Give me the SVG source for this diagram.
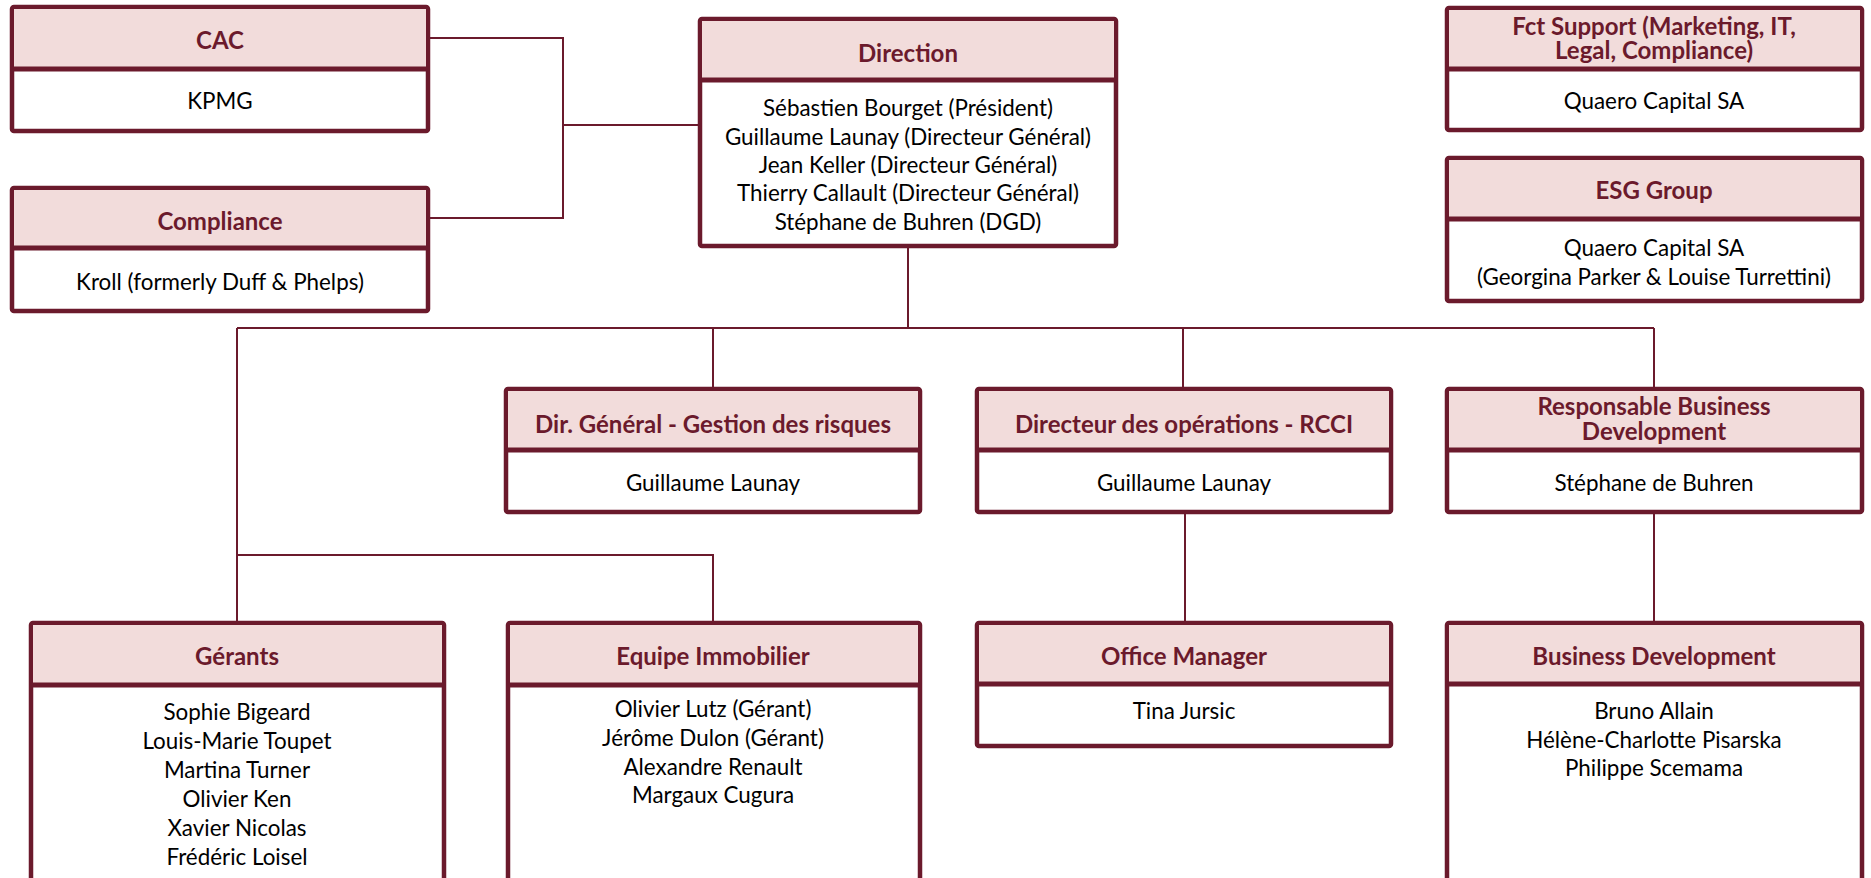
<svg xmlns="http://www.w3.org/2000/svg" width="1871" height="878" viewBox="0 0 1871 878">
<style>
.box{fill:#fff;stroke:#6b1a2c;stroke-width:4.5;}
.hdr{fill:#f2dcdb;stroke:none;}
.div{stroke:#6b1a2c;stroke-width:5;}
.t{font-family:Lato,"Open Sans",sans-serif;font-weight:bold;font-size:24px;fill:#6b1a2c;text-anchor:middle;dominant-baseline:central;}
.b{font-family:Lato,"Open Sans",sans-serif;font-size:22.4px;fill:#000;text-anchor:middle;dominant-baseline:central;}
.c{fill:none;stroke:#6b1a2c;stroke-width:2;}
</style>
<rect width="1871" height="878" fill="#fff"/>
<g id="connectors">
<path class="c" d="M430,38 H563 V218 H430"/>
<path class="c" d="M563,125 H698"/>
<path class="c" d="M908,248 V328"/>
<path class="c" d="M237,328 H1654"/>
<path class="c" d="M713,328 V387 M1183,328 V387 M1654,328 V387"/>
<path class="c" d="M237,328 V621"/>
<path class="c" d="M237,555 H713 V621"/>
<path class="c" d="M1185,514 V621 M1654,514 V621"/>
</g>
<g id="cac">
<rect class="box" x="12" y="7" width="416" height="124" rx="2"/>
<rect class="hdr" x="14" y="9" width="412" height="60"/>
<line class="div" x1="12" y1="69" x2="428" y2="69"/>
<text class="t" x="220" y="39">CAC</text>
<text class="b" x="220" y="100">KPMG</text>
</g>
<g id="compliance">
<rect class="box" x="12" y="188" width="416" height="123" rx="2"/>
<rect class="hdr" x="14" y="190" width="412" height="58"/>
<line class="div" x1="12" y1="248" x2="428" y2="248"/>
<text class="t" x="220" y="220">Compliance</text>
<text class="b" x="220" y="281">Kroll (formerly Duff &amp; Phelps)</text>
</g>
<g id="direction">
<rect class="box" x="700" y="19" width="416" height="227" rx="2"/>
<rect class="hdr" x="702" y="21" width="412" height="59"/>
<line class="div" x1="700" y1="80" x2="1116" y2="80"/>
<text class="t" x="908" y="52">Direction</text>
<text class="b" x="908" y="107">Sébastien Bourget (Président)</text>
<text class="b" x="908" y="136">Guillaume Launay (Directeur Général)</text>
<text class="b" x="908" y="164">Jean Keller (Directeur Général)</text>
<text class="b" x="908" y="192">Thierry Callault (Directeur Général)</text>
<text class="b" x="908" y="221">Stéphane de Buhren (DGD)</text>
</g>
<g id="fct-support">
<rect class="box" x="1447" y="8" width="415" height="122" rx="2"/>
<rect class="hdr" x="1449" y="10" width="411" height="59"/>
<line class="div" x1="1447" y1="69" x2="1862" y2="69"/>
<text class="t" x="1654" y="25">Fct Support (Marketing, IT,<tspan x="1654" dy="24">Legal, Compliance)</tspan></text>
<text class="b" x="1654" y="100">Quaero Capital SA</text>
</g>
<g id="esg">
<rect class="box" x="1447" y="158" width="415" height="143" rx="2"/>
<rect class="hdr" x="1449" y="160" width="411" height="59"/>
<line class="div" x1="1447" y1="219" x2="1862" y2="219"/>
<text class="t" x="1654" y="189">ESG Group</text>
<text class="b" x="1654" y="247">Quaero Capital SA</text>
<text class="b" x="1654" y="276">(Georgina Parker &amp; Louise Turrettini)</text>
</g>
<g id="dir-general">
<rect class="box" x="506" y="389" width="414" height="123" rx="2"/>
<rect class="hdr" x="508" y="391" width="410" height="59"/>
<line class="div" x1="506" y1="450" x2="920" y2="450"/>
<text class="t" x="713" y="423">Dir. Général - Gestion des risques</text>
<text class="b" x="713" y="482">Guillaume Launay</text>
</g>
<g id="dir-operations">
<rect class="box" x="977" y="389" width="414" height="123" rx="2"/>
<rect class="hdr" x="979" y="391" width="410" height="59"/>
<line class="div" x1="977" y1="450" x2="1391" y2="450"/>
<text class="t" x="1184" y="423">Directeur des opérations - RCCI</text>
<text class="b" x="1184" y="482">Guillaume Launay</text>
</g>
<g id="resp-bd">
<rect class="box" x="1447" y="389" width="415" height="123" rx="2"/>
<rect class="hdr" x="1449" y="391" width="411" height="59"/>
<line class="div" x1="1447" y1="450" x2="1862" y2="450"/>
<text class="t" x="1654" y="405">Responsable Business<tspan x="1654" dy="25">Development</tspan></text>
<text class="b" x="1654" y="482">Stéphane de Buhren</text>
</g>
<g id="gerants">
<rect class="box" x="31" y="623" width="413" height="290" rx="2"/>
<rect class="hdr" x="33" y="625" width="409" height="60"/>
<line class="div" x1="31" y1="685" x2="444" y2="685"/>
<text class="t" x="237" y="655">Gérants</text>
<text class="b" x="237" y="711">Sophie Bigeard</text>
<text class="b" x="237" y="740">Louis-Marie Toupet</text>
<text class="b" x="237" y="769">Martina Turner</text>
<text class="b" x="237" y="798">Olivier Ken</text>
<text class="b" x="237" y="827">Xavier Nicolas</text>
<text class="b" x="237" y="856">Frédéric Loisel</text>
</g>
<g id="equipe-immobilier">
<rect class="box" x="508" y="623" width="412" height="290" rx="2"/>
<rect class="hdr" x="510" y="625" width="408" height="60"/>
<line class="div" x1="508" y1="685" x2="920" y2="685"/>
<text class="t" x="713" y="655">Equipe Immobilier</text>
<text class="b" x="713" y="708">Olivier Lutz (Gérant)</text>
<text class="b" x="713" y="737">Jérôme Dulon (Gérant)</text>
<text class="b" x="713" y="766">Alexandre Renault</text>
<text class="b" x="713" y="794">Margaux Cugura</text>
</g>
<g id="office-manager">
<rect class="box" x="977" y="623" width="414" height="123" rx="2"/>
<rect class="hdr" x="979" y="625" width="410" height="59"/>
<line class="div" x1="977" y1="684" x2="1391" y2="684"/>
<text class="t" x="1184" y="655">Office Manager</text>
<text class="b" x="1184" y="710">Tina Jursic</text>
</g>
<g id="business-development">
<rect class="box" x="1447" y="623" width="415" height="290" rx="2"/>
<rect class="hdr" x="1449" y="625" width="411" height="59"/>
<line class="div" x1="1447" y1="684" x2="1862" y2="684"/>
<text class="t" x="1654" y="655">Business Development</text>
<text class="b" x="1654" y="710">Bruno Allain</text>
<text class="b" x="1654" y="739">Hélène-Charlotte Pisarska</text>
<text class="b" x="1654" y="767">Philippe Scemama</text>
</g>
</svg>
